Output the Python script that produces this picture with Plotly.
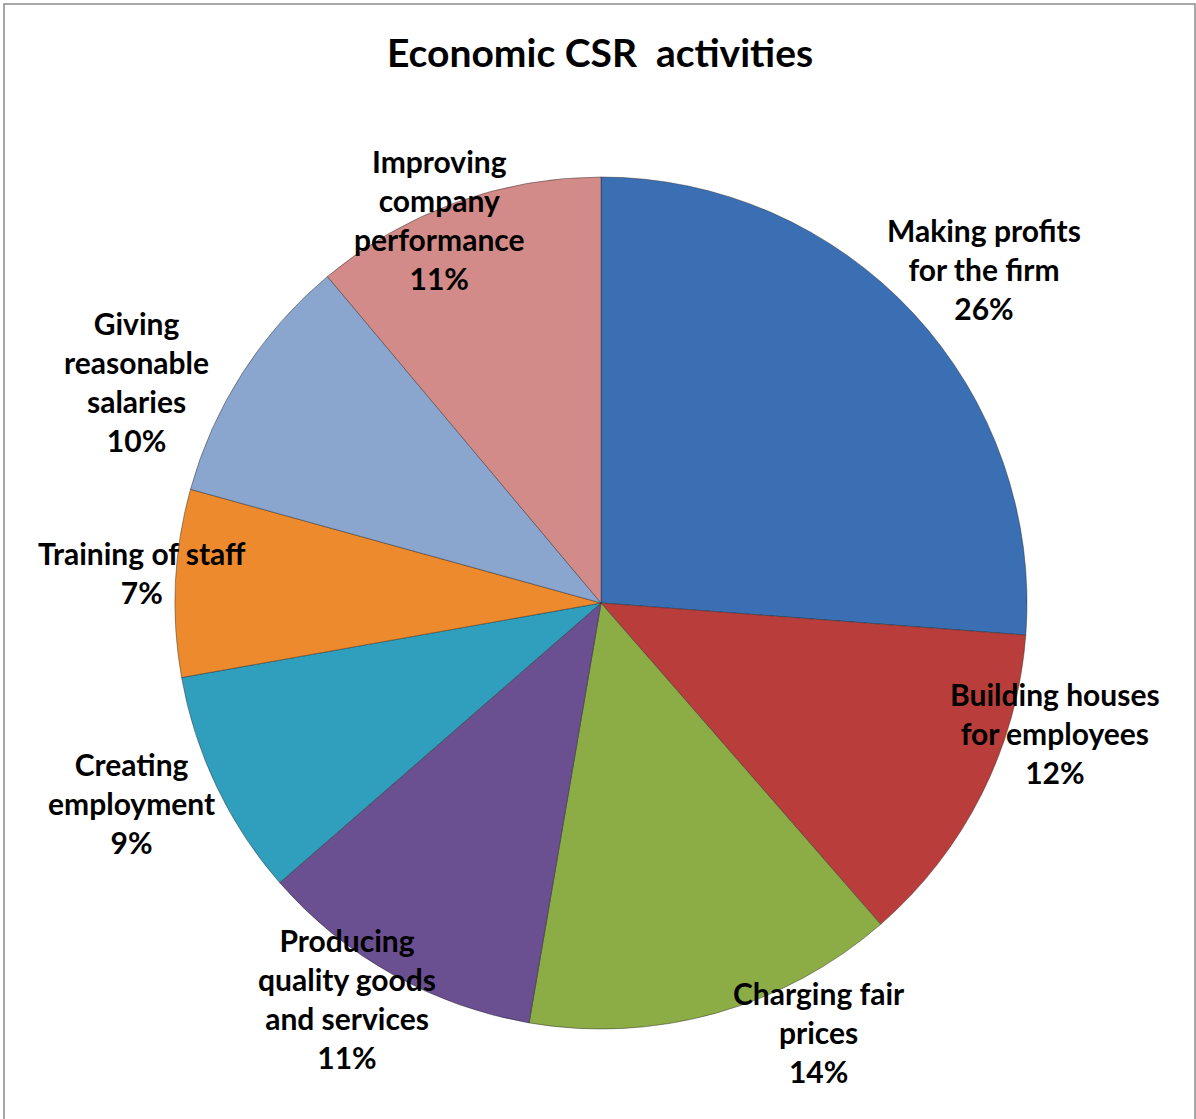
import plotly.graph_objects as go

W, H = 1196, 1119

categories = [
    "Making profits for the firm",
    "Building houses for employees",
    "Charging fair prices",
    "Producing quality goods and services",
    "Creating employment",
    "Training of staff",
    "Giving reasonable salaries",
    "Improving company performance",
]
values = [26.2, 12.4, 14.1, 10.9, 8.6, 7.1, 9.6, 11.1]
label_lines = [
    "Making profits<br>for the firm",
    "Building houses<br>for employees",
    "Charging fair<br>prices",
    "Producing<br>quality goods<br>and services",
    "Creating<br>employment",
    "Training of staff",
    "Giving<br>reasonable<br>salaries",
    "Improving<br>company<br>performance",
]

# styles
colors = ["#3A6FB4", "#B93D3A", "#8CAC46", "#6A4F91", "#2F9FBD", "#EC8A2D", "#8AA5CE", "#D38B89"]
label_px = [(984, 269), (1055, 733), (819, 1032), (347, 998), (131, 803), (142, 572), (136, 381), (439, 219)]

cx, cy, R = 601, 603, 426
font = "Lato"

fig = go.Figure(go.Pie(
    labels=categories, values=values, sort=False, direction="clockwise", rotation=0,
    marker=dict(colors=colors, line=dict(color="rgba(40,40,40,0.45)", width=1)),
    textinfo="none", hoverinfo="label+percent", showlegend=False,
    domain=dict(x=[(cx - R) / W, (cx + R) / W], y=[(H - cy - R) / H, (H - cy + R) / H]),
))

total = sum(values)
annotations = []
for txt, v, (px, py) in zip(label_lines, values, label_px):
    annotations.append(dict(
        x=px / W, y=1 - py / H, xref="paper", yref="paper",
        text=f"<b>{txt}<br>{round(100 * v / total)}%</b>",
        showarrow=False, align="center", xanchor="center", yanchor="middle",
        font=dict(family=font, size=30, color="#000000"),
    ))
annotations.append(dict(
    x=600 / W, y=1 - 52 / H, xref="paper", yref="paper",
    text="<b>Economic CSR  activities</b>", showarrow=False,
    xanchor="center", yanchor="middle",
    font=dict(family=font, size=39, color="#000000"),
))

fig.update_layout(
    width=W, height=H, margin=dict(l=0, r=0, t=0, b=0),
    paper_bgcolor="white", plot_bgcolor="white",
    annotations=annotations,
    shapes=[dict(type="rect", xref="paper", yref="paper",
                 x0=4 / W, x1=1195 / W, y0=-0.05, y1=1 - 4 / H,
                 line=dict(color="#8C8C8C", width=1.5))],
)

fig.write_html("out.html")
